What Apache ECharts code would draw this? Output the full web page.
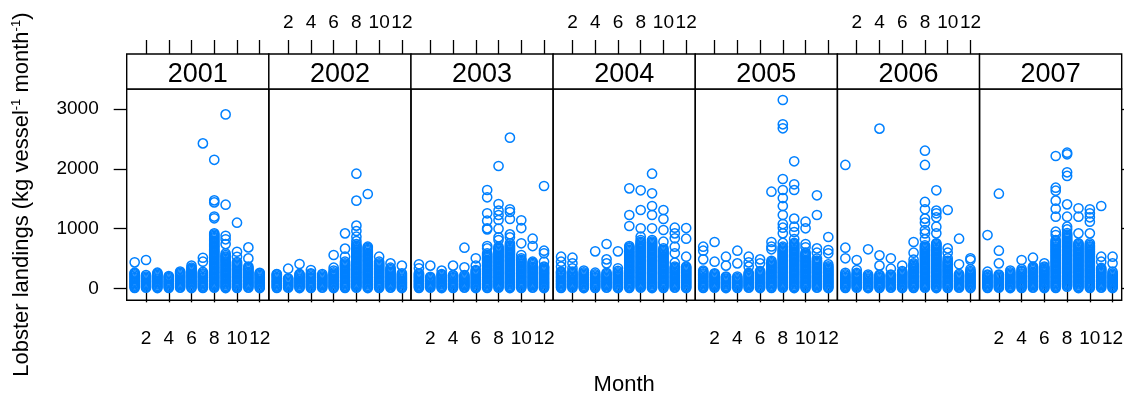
<!DOCTYPE html>
<html>
<head>
<meta charset="utf-8">
<script src="https://cdn.jsdelivr.net/npm/echarts@6/dist/echarts.min.js"></script>
<style>
  html, body { margin: 0; padding: 0; background: #fff; }
  #chart { width: 1124px; height: 396px; }
</style>
</head>
<body>
<div id="chart"></div>
<script>
// Monthly lobster landings per vessel (kg), one panel per year, months 1-12.
const years = ['2001', '2002', '2003', '2004', '2005', '2006', '2007'];
const monthTicks = [2, 4, 6, 8, 10, 12];
const landingTicks = [0, 1000, 2000, 3000];

// Each year: 12 lists (Jan..Dec) of per-vessel landings.
const landings2001 = [
  [8, 27, 46, 68, 87, 109, 128, 149, 171, 190, 212, 233, 251, 262, 435],
  [12, 31, 52, 71, 93, 114, 133, 155, 176, 197, 221, 474],
  [5, 24, 43, 64, 84, 103, 124, 145, 164, 186, 205, 226, 247, 262],
  [8, 27, 46, 68, 87, 109, 128, 149, 171, 190, 206],
  [12, 31, 52, 71, 93, 114, 133, 155, 176, 197, 216, 238, 259, 280],
  [5, 24, 43, 64, 84, 103, 124, 145, 164, 186, 205, 226, 247, 266, 287, 308, 327, 346, 380],
  [8, 27, 46, 68, 87, 109, 128, 149, 171, 190, 212, 233, 251, 274, 446, 512, 2425],
  [12, 31, 52, 71, 93, 114, 133, 155, 176, 197, 216, 238, 259, 278, 299, 321, 342, 361, 383, 404, 425, 444, 466, 487, 506, 528, 549, 568, 590, 611, 632, 651, 673, 694, 713, 735, 756, 777, 796, 818, 839, 858, 880, 901, 920, 1172, 1201, 1438, 1472, 2150],
  [5, 24, 43, 64, 84, 103, 124, 145, 164, 186, 205, 226, 247, 266, 287, 308, 327, 349, 370, 389, 410, 431, 452, 471, 493, 514, 533, 555, 584, 740, 820, 880, 1400, 2910],
  [8, 27, 46, 68, 87, 109, 128, 149, 171, 190, 212, 233, 251, 274, 293, 315, 334, 356, 377, 396, 418, 440, 528, 612, 1098],
  [12, 31, 52, 71, 93, 114, 133, 155, 176, 197, 216, 238, 259, 278, 299, 321, 342, 363, 501, 685],
  [5, 24, 43, 64, 84, 103, 124, 145, 164, 186, 205, 226, 247, 261]
];
const landings2002 = [
  [8, 27, 46, 68, 87, 109, 128, 149, 171, 190, 212, 233, 240],
  [12, 31, 52, 71, 93, 114, 133, 155, 167, 329],
  [5, 24, 43, 64, 84, 103, 124, 145, 164, 186, 205, 226, 241, 407],
  [8, 27, 46, 68, 87, 109, 128, 149, 171, 190, 212, 233, 251, 307],
  [12, 31, 52, 71, 93, 114, 133, 155, 176, 197, 216, 240],
  [5, 24, 43, 64, 84, 103, 124, 145, 164, 186, 205, 226, 247, 266, 296, 346, 558],
  [8, 27, 46, 68, 87, 109, 128, 149, 171, 190, 212, 233, 251, 274, 293, 315, 334, 356, 377, 396, 418, 446, 530, 664, 920],
  [12, 31, 52, 71, 93, 114, 133, 155, 176, 197, 216, 238, 259, 278, 299, 321, 342, 361, 383, 404, 425, 444, 466, 487, 506, 528, 549, 568, 590, 611, 632, 651, 673, 694, 713, 740, 790, 864, 959, 1049, 1467, 1918],
  [5, 24, 43, 64, 84, 103, 124, 145, 164, 186, 205, 226, 247, 266, 287, 308, 327, 349, 370, 389, 410, 431, 452, 471, 493, 514, 533, 555, 576, 595, 617, 638, 657, 679, 697, 1578],
  [8, 27, 46, 68, 87, 109, 128, 149, 171, 190, 212, 233, 251, 274, 293, 315, 334, 356, 377, 396, 418, 446, 530],
  [12, 31, 52, 71, 93, 114, 133, 155, 176, 197, 216, 238, 259, 278, 299, 321, 346, 418],
  [5, 24, 43, 64, 84, 103, 124, 145, 164, 186, 205, 226, 251, 380]
];
const landings2003 = [
  [8, 27, 46, 68, 87, 109, 128, 149, 171, 190, 212, 233, 251, 335, 402],
  [12, 31, 52, 71, 93, 114, 133, 155, 176, 194, 380],
  [5, 24, 43, 64, 84, 103, 124, 145, 164, 186, 205, 226, 238, 296],
  [8, 27, 46, 68, 87, 109, 128, 149, 171, 190, 212, 223, 380],
  [12, 31, 52, 71, 93, 114, 133, 155, 176, 197, 223, 351, 680],
  [5, 24, 43, 64, 84, 103, 124, 145, 164, 186, 205, 226, 247, 266, 287, 307, 380, 502],
  [8, 27, 46, 68, 87, 109, 128, 149, 171, 190, 212, 233, 251, 274, 293, 315, 334, 356, 377, 396, 418, 437, 459, 478, 500, 521, 540, 562, 586, 669, 708, 987, 1004, 1132, 1255, 1523, 1645],
  [12, 31, 52, 71, 93, 114, 133, 155, 176, 197, 216, 238, 259, 278, 299, 321, 342, 361, 383, 404, 425, 444, 466, 487, 506, 528, 549, 568, 590, 611, 632, 651, 673, 697, 809, 853, 998, 1143, 1227, 1300, 1411, 2047],
  [5, 24, 43, 64, 84, 103, 124, 145, 164, 186, 205, 226, 247, 266, 287, 308, 327, 349, 370, 389, 410, 431, 452, 471, 493, 514, 533, 555, 576, 595, 617, 638, 657, 679, 700, 719, 753, 853, 903, 1160, 1277, 1322, 2521],
  [8, 27, 46, 68, 87, 109, 128, 149, 171, 190, 212, 233, 251, 274, 293, 315, 334, 356, 377, 396, 418, 437, 459, 478, 502, 558, 753, 1009, 1138],
  [12, 31, 52, 71, 93, 114, 133, 155, 176, 197, 216, 238, 259, 278, 299, 321, 342, 361, 383, 404, 425, 446, 708, 831],
  [5, 24, 43, 64, 84, 103, 124, 145, 164, 186, 205, 226, 247, 266, 287, 308, 327, 349, 363, 446, 586, 630, 1712]
];
const landings2004 = [
  [8, 27, 46, 68, 87, 109, 128, 149, 171, 190, 212, 233, 251, 266, 281, 363, 446, 530],
  [12, 31, 52, 71, 93, 114, 133, 155, 176, 197, 216, 238, 259, 282, 335, 418, 513],
  [5, 24, 43, 64, 84, 103, 124, 145, 164, 186, 205, 226, 247, 266, 296],
  [8, 27, 46, 68, 87, 109, 128, 149, 171, 190, 212, 233, 262, 619],
  [12, 31, 52, 71, 93, 114, 133, 155, 176, 197, 216, 238, 259, 418, 485, 742],
  [5, 24, 43, 64, 84, 103, 124, 145, 164, 186, 205, 226, 247, 266, 291, 335, 619],
  [8, 27, 46, 68, 87, 109, 128, 149, 171, 190, 212, 233, 251, 274, 293, 315, 334, 356, 377, 396, 418, 437, 459, 478, 500, 521, 540, 562, 581, 603, 622, 644, 669, 685, 708, 1043, 1227, 1673],
  [12, 31, 52, 71, 93, 114, 133, 155, 176, 197, 216, 238, 259, 278, 299, 321, 342, 361, 383, 404, 425, 444, 466, 487, 506, 528, 549, 568, 590, 611, 632, 651, 673, 694, 713, 735, 756, 777, 809, 864, 1004, 1311, 1640],
  [5, 24, 43, 64, 84, 103, 124, 145, 164, 186, 205, 226, 247, 266, 287, 308, 327, 349, 370, 389, 410, 431, 452, 471, 493, 514, 533, 555, 576, 595, 617, 638, 657, 679, 700, 719, 741, 762, 781, 809, 1004, 1227, 1378, 1590, 1918],
  [8, 27, 46, 68, 87, 109, 128, 149, 171, 190, 212, 233, 251, 274, 293, 315, 334, 356, 377, 396, 418, 437, 459, 478, 500, 521, 540, 562, 581, 603, 622, 644, 669, 781, 976, 1160, 1311],
  [12, 31, 52, 71, 93, 114, 133, 155, 176, 197, 216, 238, 259, 278, 299, 321, 342, 363, 429, 586, 697, 837, 920, 1015],
  [5, 24, 43, 64, 84, 103, 124, 145, 164, 186, 205, 226, 247, 266, 287, 308, 327, 349, 363, 530, 831, 1009]
];
const landings2005 = [
  [8, 27, 46, 68, 87, 109, 128, 149, 171, 190, 212, 233, 251, 274, 296, 485, 630, 697],
  [12, 31, 52, 71, 93, 114, 133, 155, 176, 197, 216, 238, 251, 446, 775],
  [5, 24, 43, 64, 84, 103, 124, 145, 164, 186, 197, 380, 530],
  [8, 27, 46, 68, 87, 109, 128, 149, 171, 197, 418, 630],
  [12, 31, 52, 71, 93, 114, 133, 155, 176, 197, 216, 238, 258, 363, 435, 530],
  [5, 24, 43, 64, 84, 103, 124, 145, 164, 186, 205, 226, 247, 266, 289, 418, 485],
  [8, 27, 46, 68, 87, 109, 128, 149, 171, 190, 212, 233, 251, 274, 293, 315, 334, 356, 377, 396, 418, 437, 461, 653, 700, 775, 1617],
  [12, 31, 52, 71, 93, 114, 133, 155, 176, 197, 216, 238, 259, 278, 299, 321, 342, 361, 383, 404, 425, 444, 466, 487, 506, 528, 549, 568, 590, 611, 632, 651, 673, 697, 760, 920, 1015, 1076, 1227, 1378, 1511, 1645, 1829, 2677, 2744, 3151],
  [5, 24, 43, 64, 84, 103, 124, 145, 164, 186, 205, 226, 247, 266, 287, 308, 327, 349, 370, 389, 410, 431, 452, 471, 493, 514, 533, 555, 576, 595, 617, 638, 657, 679, 700, 719, 741, 760, 825, 943, 1032, 1166, 1645, 1740, 2125],
  [8, 27, 46, 68, 87, 109, 128, 149, 171, 190, 212, 233, 251, 274, 293, 315, 334, 356, 377, 396, 418, 437, 459, 478, 500, 521, 540, 562, 581, 598, 686, 742, 1004, 1115],
  [12, 31, 52, 71, 93, 114, 133, 155, 176, 197, 216, 238, 259, 278, 299, 321, 342, 361, 383, 404, 425, 444, 466, 499, 597, 669, 1227, 1556],
  [5, 24, 43, 64, 84, 103, 124, 145, 164, 186, 205, 226, 247, 266, 287, 308, 327, 349, 370, 401, 586, 641, 859]
];
const landings2006 = [
  [8, 27, 46, 68, 87, 109, 128, 149, 171, 190, 212, 233, 261, 502, 680, 2064],
  [12, 31, 52, 71, 93, 114, 133, 155, 176, 197, 216, 238, 258, 307, 474],
  [5, 24, 43, 64, 84, 103, 124, 145, 164, 186, 205, 231, 653],
  [8, 27, 46, 68, 87, 109, 128, 149, 171, 190, 212, 228, 380, 552, 2672],
  [12, 31, 52, 71, 93, 114, 133, 155, 176, 197, 216, 229, 329, 502],
  [5, 24, 43, 64, 84, 103, 124, 145, 164, 186, 205, 226, 247, 266, 288, 380],
  [8, 27, 46, 68, 87, 109, 128, 149, 171, 190, 212, 233, 251, 274, 293, 315, 334, 356, 377, 396, 418, 479, 597, 775],
  [12, 31, 52, 71, 93, 114, 133, 155, 176, 197, 216, 238, 259, 278, 299, 321, 342, 361, 383, 404, 425, 444, 466, 487, 506, 528, 549, 568, 590, 611, 632, 651, 673, 694, 720, 820, 920, 976, 1099, 1166, 1322, 1445, 2064, 2303],
  [5, 24, 43, 64, 84, 103, 124, 145, 164, 186, 205, 226, 247, 266, 287, 308, 327, 349, 370, 389, 410, 431, 452, 471, 493, 514, 533, 555, 576, 595, 617, 638, 657, 679, 700, 719, 741, 753, 920, 1032, 1188, 1255, 1300, 1640],
  [8, 27, 46, 68, 87, 109, 128, 149, 171, 190, 212, 233, 251, 274, 293, 315, 334, 356, 377, 396, 418, 437, 461, 502, 597, 669, 1311],
  [12, 31, 52, 71, 93, 114, 133, 155, 176, 197, 216, 241, 402, 831],
  [5, 24, 43, 64, 84, 103, 124, 145, 164, 186, 205, 226, 247, 266, 287, 318, 474, 502]
];
const landings2007 = [
  [8, 27, 46, 68, 87, 109, 128, 149, 171, 190, 212, 229, 279, 892],
  [12, 31, 52, 71, 93, 114, 133, 155, 176, 197, 216, 231, 418, 630, 1584],
  [5, 24, 43, 64, 84, 103, 124, 145, 164, 186, 205, 226, 247, 266, 296],
  [8, 27, 46, 68, 87, 109, 128, 149, 171, 190, 212, 233, 251, 274, 293, 322, 474],
  [12, 31, 52, 71, 93, 114, 133, 155, 176, 197, 216, 238, 259, 278, 299, 321, 342, 363, 513],
  [5, 24, 43, 64, 84, 103, 124, 145, 164, 186, 205, 226, 247, 266, 287, 308, 327, 349, 363, 418],
  [8, 27, 46, 68, 87, 109, 128, 149, 171, 190, 212, 233, 251, 274, 293, 315, 334, 356, 377, 396, 418, 437, 459, 478, 500, 521, 540, 562, 581, 603, 622, 644, 663, 685, 704, 726, 745, 767, 786, 809, 892, 948, 1199, 1333, 1467, 1634, 1684, 2214],
  [28, 52, 71, 93, 114, 133, 155, 176, 197, 216, 238, 259, 278, 299, 321, 342, 361, 383, 404, 425, 444, 466, 487, 506, 528, 549, 568, 590, 611, 632, 651, 673, 694, 713, 735, 756, 777, 796, 818, 839, 858, 880, 901, 924, 987, 1032, 1199, 1405, 1880, 1941, 2242, 2270],
  [5, 24, 43, 64, 84, 103, 124, 145, 164, 186, 205, 226, 247, 266, 287, 308, 327, 349, 370, 389, 410, 431, 452, 471, 493, 514, 533, 555, 576, 595, 617, 638, 657, 679, 700, 719, 741, 753, 920, 1199, 1339],
  [8, 27, 46, 68, 87, 109, 128, 149, 171, 190, 212, 233, 251, 274, 293, 315, 334, 356, 377, 396, 418, 437, 459, 478, 500, 521, 540, 562, 581, 603, 622, 644, 663, 685, 704, 726, 753, 920, 1115, 1188, 1255, 1322],
  [12, 31, 52, 71, 93, 114, 133, 155, 176, 197, 216, 238, 259, 278, 299, 321, 341, 446, 530, 1378],
  [5, 24, 43, 64, 84, 103, 124, 145, 164, 186, 205, 226, 247, 279, 418, 530]
];
const landingsByYear = [landings2001, landings2002, landings2003, landings2004, landings2005, landings2006, landings2007];

// Panel geometry (lattice-style, panels share edges)
const FONT = 'Liberation Sans';
const panelLeft = 126.7, panelWidth = 142.14, panelTop = 89, panelHeight = 211.3;
const stripHeight = 35;
const xRange = [0.3, 12.8];
const yRange = [-200, 3335];
const pointColor = '#0080ff';
const lineW = 1.4;
const tickFont = { fontFamily: FONT, fontSize: 19, color: '#000' };

const grids = [], xAxes = [], yAxes = [], series = [], graphics = [];

years.forEach((year, i) => {
  const left = panelLeft + i * panelWidth;
  grids.push({
    left: left, top: panelTop, width: panelWidth, height: panelHeight,
    show: true, borderColor: '#000', borderWidth: lineW, backgroundColor: 'transparent',
    outerBoundsMode: 'none'
  });
  const bottomLabels = i % 2 === 0;
  const baseX = {
    gridIndex: i, type: 'value', min: xRange[0], max: xRange[1],
    axisLine: { show: false },
    splitLine: { show: false },
    axisTick: { show: true, inside: false, length: 14, customValues: monthTicks,
                lineStyle: { color: '#000', width: 1.3 } }
  };
  // bottom axis (labels on 1st, 3rd, ... panels)
  xAxes.push(Object.assign({}, baseX, {
    position: 'bottom',
    axisLabel: Object.assign({ show: bottomLabels, customValues: monthTicks, margin: 29 }, tickFont),
    name: i === 3 ? 'Month' : '',
    nameLocation: 'middle', nameGap: 74,
    nameTextStyle: { fontFamily: FONT, fontSize: 22, color: '#000' }
  }));
  // top axis sits above the strip (labels on 2nd, 4th, ... panels)
  xAxes.push(Object.assign({}, baseX, {
    position: 'top', offset: stripHeight,
    axisLabel: Object.assign({ show: !bottomLabels, customValues: monthTicks, margin: 22 }, tickFont)
  }));
  yAxes.push({
    gridIndex: i, type: 'value', min: yRange[0], max: yRange[1], position: 'left',
    show: i === 0,
    axisLine: { show: false },
    splitLine: { show: false },
    axisTick: { show: true, inside: false, length: 13, customValues: landingTicks,
                lineStyle: { color: '#000', width: 1.3 } },
    axisLabel: Object.assign({ show: true, customValues: landingTicks, margin: 28,
                               formatter: v => String(v) }, tickFont),
    name: i === 0 ? '{a|Lobster landings (kg vessel}{s|-1}{a| month}{s|-1}{a|)}' : '',
    nameLocation: 'middle', nameRotate: 90, nameGap: 92,
    nameTextStyle: {
      rich: {
        a: { fontFamily: FONT, fontSize: 22, color: '#000', lineHeight: 25 },
        s: { fontFamily: FONT, fontSize: 13, color: '#000', verticalAlign: 'top', lineHeight: 25 }
      }
    }
  });

  const data = [];
  landingsByYear[i].forEach((vals, mi) => {
    vals.forEach(v => data.push([mi + 1, v]));
  });
  series.push({
    type: 'scatter',
    xAxisIndex: 2 * i, yAxisIndex: i,
    data: data,
    symbol: 'circle', symbolSize: 9.2,
    itemStyle: { color: 'rgba(0,0,0,0)', borderColor: pointColor, borderWidth: 1.5, opacity: 1 },
    silent: true, animation: false
  });

  // strip with the year
  graphics.push({
    type: 'rect', z: 10,
    shape: { x: left, y: panelTop - stripHeight, width: panelWidth, height: stripHeight },
    style: { fill: '#fff', stroke: '#000', lineWidth: lineW }
  });
  graphics.push({
    type: 'text', z: 11,
    x: left + panelWidth / 2, y: panelTop - stripHeight / 2 + 3,
    style: { text: year, textAlign: 'center', textVerticalAlign: 'middle',
             font: '27px "' + FONT + '"', fill: '#000' }
  });
});

// right-hand ticks on the last panel
yAxes.push({
  gridIndex: 6, type: 'value', min: yRange[0], max: yRange[1], position: 'right',
  axisLine: { show: false }, splitLine: { show: false },
  axisTick: { show: true, inside: false, length: 13, customValues: landingTicks,
              lineStyle: { color: '#000', width: 1.3 } },
  axisLabel: { show: false }
});

const chart = echarts.init(document.getElementById('chart'), null, { renderer: 'canvas' });
chart.setOption({
  animation: false,
  backgroundColor: '#fff',
  grid: grids,
  xAxis: xAxes,
  yAxis: yAxes,
  series: series,
  graphic: graphics
});
</script>
</body>
</html>
